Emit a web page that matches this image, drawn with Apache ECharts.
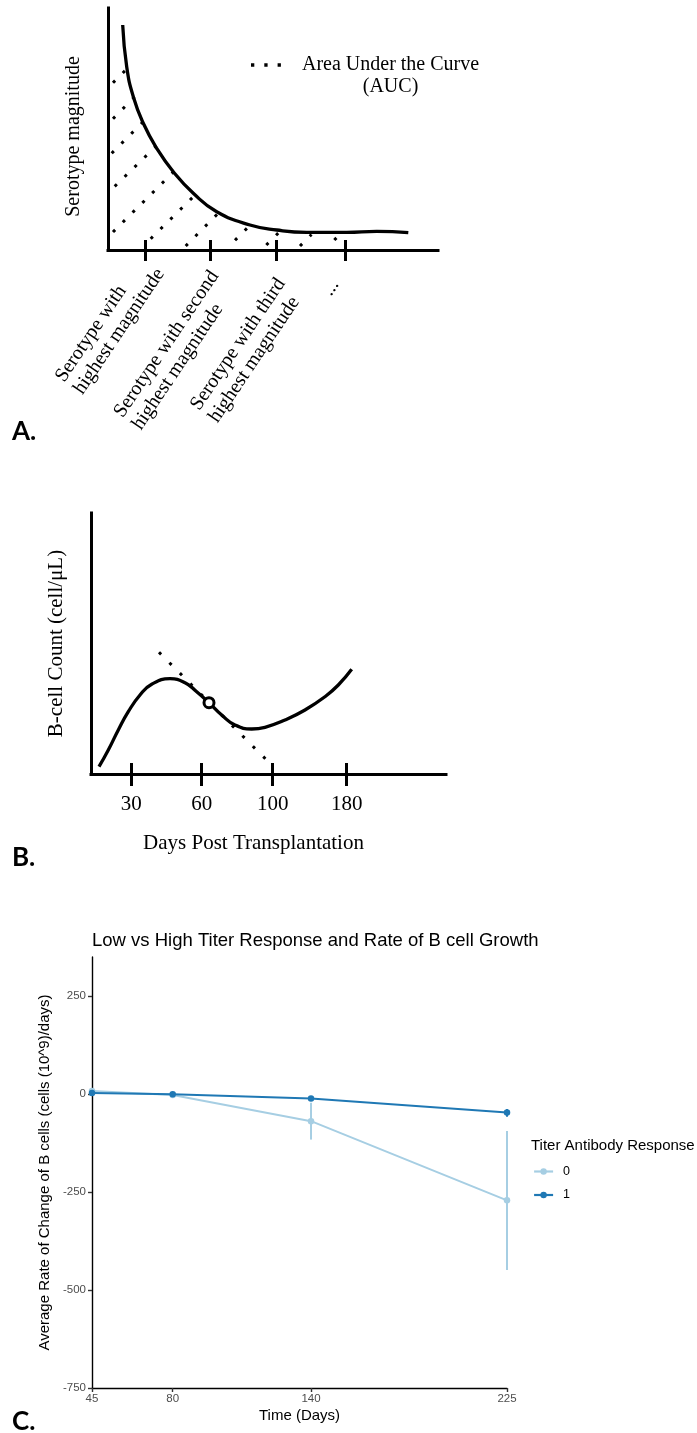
<!DOCTYPE html>
<html><head><meta charset="utf-8">
<script src="https://cdn.jsdelivr.net/npm/echarts@6/dist/echarts.min.js"></script>
<style>html,body{margin:0;padding:0;background:#fff}#c{width:697px;height:1433px}</style>
</head><body><div id="c"></div>
<script>
// ---------- Panel A (schematic units) ----------
const aCurve = [[14.7,225],[18.7,183.3],[25.3,153.3],[35.3,126.7],[48.7,101.7],[65.3,78.3],[85.3,56.7],[108.7,38.3],[142,25],[168.7,20],[198.7,17.7],[238.7,17.7],[268.7,18.7],[300.3,17.3]];
const aHatch = [
  [[5,167.3],[17.5,179.8]],
  [[5,131.3],[26.8,153.2]],
  [[3.7,96.7],[35.8,128.8]],
  [[6.7,63.7],[49.2,104.8]],
  [[5,18],[66.2,78.8]],
  [[42.7,11.3],[84.5,52.5]],
  [[77.7,4],[109.2,35.8]],
  [[127,9.7],[139.5,22.2]],
  [[158.3,5],[170.8,17.5]],
  [[192,4],[203.5,15.5]],
  [[226.3,10],[228.8,12.5]]
];
const aTickValues = [37, 102.5, 168.3, 237];
const aTickLabels = [
  ['Serotype with','highest magnitude'],
  ['Serotype with second','highest magnitude'],
  ['Serotype with third','highest magnitude'],
  ['...']
];
// ---------- Panel B (schematic units) ----------
const bCurve = [[8,7.3],[17.3,24],[27.3,44],[37.3,62.3],[49,79],[60.7,89.7],[79,95.3],[94,91.3],[105.7,82.3],[118,71.3],[130.7,59],[144,49],[160.7,45],[174,46.7],[194,54],[214,64],[234,77.3],[247.3,89],[260.7,104.7]];
const bTangent = [[68,121.7],[174.8,14.8]];
const bPoint = [118,71.3];
const bTickValues = [40.3, 110.7, 181.7, 255.7];
const bTickLabels = ['30','60','100','180'];
// ---------- Panel C ----------
const cDays = [45, 80, 140, 225];
const cLow = [8, -2, -69, -271];
const cLowErr = [[2,14],[-5,1],[-116,-22],[-449,-94]];
const cHigh = [3, 0, -11, -47];
const cHighErr = [[0,6],[-2,2],[-15,-6],[-58,-38]];
const cYTicks = [-750, -500, -250, 0, 250];

const serif = 'Liberation Serif';
const sans = 'Liberation Sans';
function nearestIndex(arr, v){let bi=0,bd=Infinity;arr.forEach((a,i)=>{const d=Math.abs(a-v);if(d<bd){bd=d;bi=i;}});return bi;}

const aLabelLayout = [
  {margin:10, padding:[15,0,0,0]},
  {margin:20, padding:[32,0,0,0]},
  {margin:27, padding:[34,0,0,0]},
  {margin:16.5, padding:[0,18,0,0]}
];
const blackAxis = {onZero:false, lineStyle:{color:'#000', width:3, cap:'square'}};

function errSeries(errs, color, z){
  return {
    type:'custom', xAxisIndex:8, yAxisIndex:2, z:z, silent:true,
    data: errs.map((e,i)=>[cDays[i], e[0], e[1]]),
    encode:{x:0, y:[1,2]},
    renderItem:(params, api)=>{
      const x = api.value(0);
      const p1 = api.coord([x, api.value(1)]);
      const p2 = api.coord([x, api.value(2)]);
      return {type:'line', shape:{x1:p1[0],y1:p1[1],x2:p2[0],y2:p2[1]}, style:{stroke:color, lineWidth:2}};
    }
  };
}

const option = {
  animation:false,
  backgroundColor:'#fff',
  textStyle:{fontFamily:sans},
  title:[
    {text:'A.', left:12, top:419, padding:0, textStyle:{fontFamily:'Lato', fontWeight:'bold', fontSize:26, color:'#000'}},
    {text:'B.', left:12, top:845, padding:0, textStyle:{fontFamily:'Lato', fontWeight:'bold', fontSize:26, color:'#000'}},
    {text:'C.', left:12, top:1409, padding:0, textStyle:{fontFamily:'Lato', fontWeight:'bold', fontSize:26, color:'#000'}},
    {text:'Low vs High Titer Response and Rate of B cell Growth', left:92, top:931, padding:0, textStyle:{fontFamily:sans, fontSize:18.5, fontWeight:'normal', color:'#000'}},
    {text:'Titer Antibody Response', left:531, top:1138, padding:0, textStyle:{fontFamily:sans, fontSize:15, fontWeight:'normal', color:'#000'}}
  ],
  legend:[
    {data:[{name:'AUC', icon:'path://M0,0h3.3v3.3h-3.3zM13.3,0h3.3v3.3h-3.3zM26.6,0h3.3v3.3h-3.3z'}],
     left:251, top:32, padding:0, itemWidth:30, itemHeight:3.3, selectedMode:false,
     itemStyle:{color:'#000', borderWidth:0},
     formatter:()=>'\n{a|Area Under the Curve}\n{b|(AUC)}',
     textStyle:{fontFamily:serif, fontSize:20, lineHeight:22, color:'#000', padding:[0,0,0,16],
       rich:{a:{fontFamily:serif,fontSize:20,lineHeight:22,color:'#000',align:'left'}, b:{fontFamily:serif,fontSize:20,lineHeight:22,color:'#000',align:'center'}}}},
    {data:['0','1'], orient:'vertical', left:533, top:1165, padding:0, itemWidth:19, itemHeight:8, itemGap:10.5, selectedMode:false,
     lineStyle:{width:2.2},
     textStyle:{fontFamily:sans, fontSize:12.5, color:'#000', padding:[0,0,0,5]}}
  ],
  grid:[
    {left:108, top:8, width:330, height:242},
    {left:91, top:513, width:355, height:261},
    {left:92, top:957, width:415, height:431}
  ],
  xAxis:[
    {gridIndex:0, type:'value', position:'bottom', min:0, max:330, axisLine:blackAxis,
     axisTick:{show:true, customValues:aTickValues, length:11, lineStyle:{color:'#000', width:3}}, axisLabel:{show:false}, splitLine:{show:false}},
    {gridIndex:0, type:'value', position:'bottom', min:0, max:330, axisLine:{show:false, onZero:false},
     axisTick:{show:true, inside:true, customValues:aTickValues, length:10, lineStyle:{color:'#000', width:3}}, axisLabel:{show:false}, splitLine:{show:false}},
    ...aTickValues.map((v,k)=>({gridIndex:0, type:'value', position:'bottom', min:0, max:330,
      axisLine:{show:false, onZero:false}, axisTick:{show:false}, splitLine:{show:false},
      axisLabel:{show:true, customValues:[v], rotate:56, margin:aLabelLayout[k].margin, padding:aLabelLayout[k].padding,
        formatter:()=>aTickLabels[k].map(s=>'{t|'+s+'}').join('\n'),
        rich:{t:{fontFamily:serif, fontSize:20, lineHeight:22, color:'#000', align:'left'}}}})),
    {gridIndex:1, type:'value', position:'bottom', min:0, max:355, axisLine:blackAxis,
     axisTick:{show:true, customValues:bTickValues, length:12, lineStyle:{color:'#000', width:3}},
     axisLabel:{show:true, customValues:bTickValues, formatter:v=>bTickLabels[nearestIndex(bTickValues,v)], margin:20, fontFamily:serif, fontSize:21, color:'#000'},
     splitLine:{show:false},
     name:'Days Post Transplantation', nameLocation:'middle', nameGap:59,
     nameTextStyle:{fontFamily:serif, fontSize:21, color:'#000', padding:[0,30,0,0]}},
    {gridIndex:1, type:'value', position:'bottom', min:0, max:355, axisLine:{show:false, onZero:false},
     axisTick:{show:true, inside:true, customValues:bTickValues, length:11, lineStyle:{color:'#000', width:3}}, axisLabel:{show:false}, splitLine:{show:false}},
    {gridIndex:2, type:'value', position:'bottom', min:45, max:225,
     axisLine:{onZero:false, lineStyle:{color:'#000', width:1.4}},
     axisTick:{show:true, customValues:cDays, length:4, lineStyle:{color:'#333', width:1.4}},
     axisLabel:{show:true, customValues:cDays, margin:5, fontFamily:sans, fontSize:11.5, color:'#4d4d4d'},
     splitLine:{show:false},
     name:'Time (Days)', nameLocation:'middle', nameGap:20.5, nameTextStyle:{fontFamily:sans, fontSize:15, color:'#000'}}
  ],
  yAxis:[
    {gridIndex:0, type:'value', position:'left', min:0, max:242, axisLine:blackAxis, axisTick:{show:false}, axisLabel:{show:false}, splitLine:{show:false},
     name:'Serotype magnitude', nameLocation:'middle', nameGap:24, nameTextStyle:{fontFamily:serif, fontSize:20, color:'#000', padding:[0,15,0,0]}},
    {gridIndex:1, type:'value', position:'left', min:0, max:261, axisLine:blackAxis, axisTick:{show:false}, axisLabel:{show:false}, splitLine:{show:false},
     name:'B-cell Count (cell/μL)', nameLocation:'middle', nameGap:24, nameTextStyle:{fontFamily:serif, fontSize:21, color:'#000'}},
    {gridIndex:2, type:'value', position:'left', min:-750, max:350,
     axisLine:{onZero:false, lineStyle:{color:'#000', width:1.4}},
     axisTick:{show:true, customValues:cYTicks, length:4, lineStyle:{color:'#333', width:1.4}},
     axisLabel:{show:true, customValues:cYTicks, margin:6, fontFamily:sans, fontSize:11.5, color:'#4d4d4d'},
     splitLine:{show:false},
     name:'Average Rate of Change of B cells (cells (10^9)/days)', nameLocation:'middle', nameGap:32,
     nameTextStyle:{fontFamily:sans, fontSize:15, color:'#000'}}
  ],
  series:[
    ...aHatch.map(seg=>({type:'line', name:'AUC', xAxisIndex:0, yAxisIndex:0, data:seg, symbol:'none', silent:true, z:2,
      color:'#000', lineStyle:{color:'#000', width:3, type:[3,10.8], cap:'butt'}})),
    {type:'line', name:'curveA', xAxisIndex:0, yAxisIndex:0, data:aCurve, smooth:0.5, symbol:'none', silent:true, z:3,
     lineStyle:{color:'#000', width:3.3}},
    {type:'line', name:'tangent', xAxisIndex:6, yAxisIndex:1, data:bTangent, symbol:'none', silent:true, z:2,
     lineStyle:{color:'#000', width:3, type:[3,11.75], cap:'butt'}},
    {type:'line', name:'curveB', xAxisIndex:6, yAxisIndex:1, data:bCurve, smooth:0.5, symbol:'none', silent:true, z:3,
     lineStyle:{color:'#000', width:3.3}},
    {type:'scatter', name:'pointB', xAxisIndex:6, yAxisIndex:1, data:[bPoint], symbol:'circle', symbolSize:10, silent:true, z:4,
     itemStyle:{color:'#fff', borderColor:'#000', borderWidth:3, opacity:1}},
    {type:'line', name:'0', xAxisIndex:8, yAxisIndex:2, data:cDays.map((d,i)=>[d,cLow[i]]), color:'#a6cee3',
     symbol:'circle', symbolSize:6.5, z:2, lineStyle:{color:'#a6cee3', width:2}, itemStyle:{color:'#a6cee3'}},
    errSeries(cLowErr, '#a6cee3', 2),
    {type:'line', name:'1', xAxisIndex:8, yAxisIndex:2, data:cDays.map((d,i)=>[d,cHigh[i]]), color:'#1f78b4',
     symbol:'circle', symbolSize:6.5, z:3, lineStyle:{color:'#1f78b4', width:2}, itemStyle:{color:'#1f78b4'}},
    errSeries(cHighErr, '#1f78b4', 3)
  ]
};
const chart = echarts.init(document.getElementById('c'), null, {renderer:'canvas', width:697, height:1433});
chart.setOption(option);
</script>
</body></html>
